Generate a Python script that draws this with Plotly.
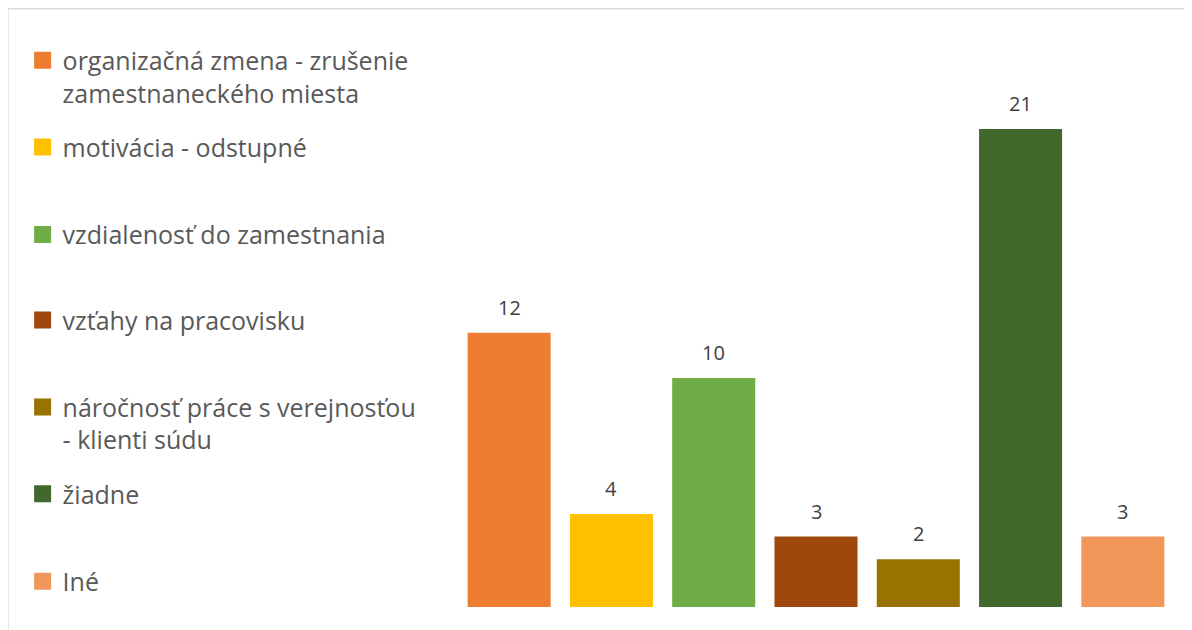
import plotly.graph_objects as go

# ---- data ----
categories = [
    "organizačná zmena - zrušenie zamestnaneckého miesta",
    "motivácia - odstupné",
    "vzdialenosť do zamestnania",
    "vzťahy na pracovisku",
    "náročnosť práce s verejnosťou - klienti súdu",
    "žiadne",
    "Iné",
]
legend_labels = [
    "organizačná zmena - zrušenie<br>zamestnaneckého miesta",
    "motivácia - odstupné",
    "vzdialenosť do zamestnania",
    "vzťahy na pracovisku",
    "náročnosť práce s verejnosťou<br>- klienti súdu",
    "žiadne",
    "Iné",
]
values = [12, 4, 10, 3, 2, 21, 3]
colors = ["#ED7D31", "#FFC000", "#70AD47", "#9E480E", "#997300", "#43682B", "#F1975A"]

# ---- layout geometry (page pixels; page body has an 8px margin) ----
OFF = 8
W, H = 1192, 630
PL, PR, PT, PB = 458.4 - OFF, 1173.6 - OFF, 41 - OFF, 607 - OFF
PW, PH = PR - PL, PB - PT


def xp(px):
    return (px - OFF - PL) / PW


def yp(py):
    return (PB - (py - OFF)) / PH


FONT = "Open Sans"
legend_centers = [61.5, 148.3, 235.7, 321.3, 408.3, 495, 582.5]

fig = go.Figure()
for i, (cat, lab, v, c) in enumerate(zip(categories, legend_labels, values, colors)):
    fig.add_trace(go.Bar(
        x=[cat], y=[v], name=lab,
        marker=dict(color=c, line=dict(color=c, width=5)),
        legend="legend" if i == 0 else f"legend{i + 1}",
        hoverinfo="name+y",
    ))
    fig.add_annotation(
        x=cat, y=v, text=str(v), showarrow=False,
        yanchor="middle", yshift=28,
        font=dict(family=FONT, size=20, color="#404040"),
    )

legend_layouts = {}
for i, cy in enumerate(legend_centers):
    key = "legend" if i == 0 else f"legend{i + 1}"
    legend_layouts[key] = dict(
        x=xp(23.5), y=yp(cy - 24), xanchor="left", yanchor="top",
        font=dict(family=FONT, size=25, color="#595959"),
        bgcolor="rgba(0,0,0,0)", borderwidth=0, valign="top",
        itemclick=False, itemdoubleclick=False,
    )

fig.update_layout(
    width=W, height=H,
    margin=dict(l=PL, r=W - PR, t=PT, b=H - PB, pad=0),
    paper_bgcolor="white", plot_bgcolor="white",
    barmode="overlay", bargap=0.237,
    showlegend=True,
    xaxis=dict(visible=False, range=[-0.5, 6.5], type="category"),
    yaxis=dict(visible=False, range=[0, 25]),
    font=dict(family=FONT),
    shapes=[dict(
        type="rect", xref="paper", yref="paper",
        x0=xp(OFF + 0.75), x1=1.2, y0=-0.2, y1=yp(OFF + 0.75),
        line=dict(color="#d9d9d9", width=1.5), fillcolor="rgba(0,0,0,0)", layer="below",
    )],
    **legend_layouts,
)

fig.write_html("out.html")
